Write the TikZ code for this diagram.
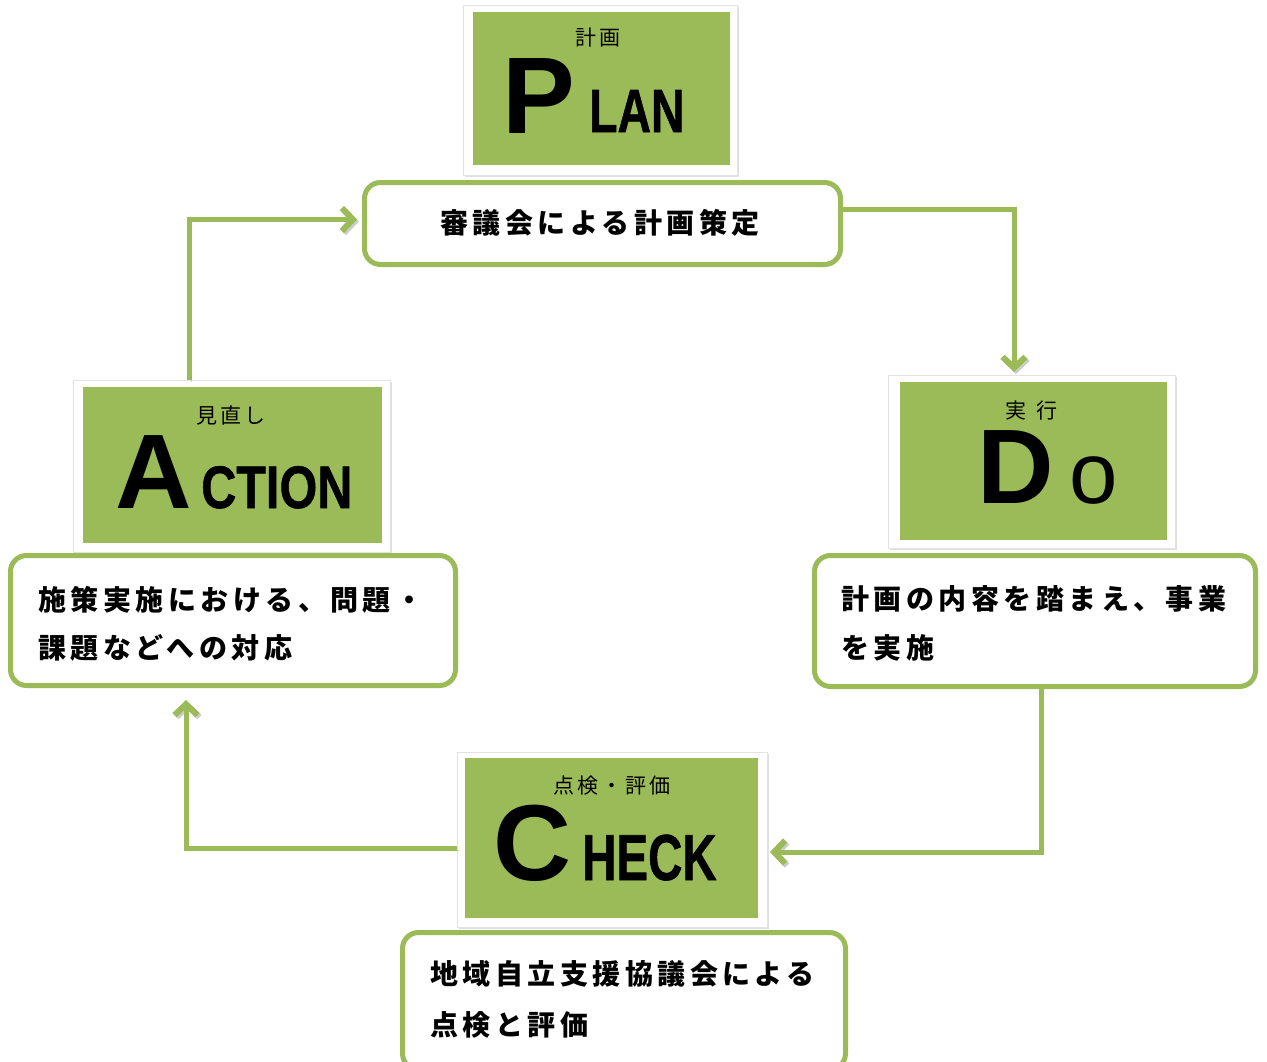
\documentclass[tikz,border=0pt]{standalone}
\usepackage{fontspec}
\usepackage{graphicx}
\setmainfont{Liberation Sans}
\newfontfamily\jpsp[LetterSpace=16]{Noto Sans CJK JP}
\newfontfamily\jpsm[LetterSpace=15]{Noto Sans CJK JP}
\newfontfamily\condf[FakeBold=1]{Liberation Sans}
\usetikzlibrary{arrows.meta,shadows}
\definecolor{gcol}{HTML}{9BBB59}
\newcommand{\cnd}[2][0.75]{\scalebox{#1}[1]{#2}}
\begin{document}
\begin{tikzpicture}[x=1pt,y=-1pt,
  wframe/.style={draw=gray!22, line width=1pt, fill=white,
    drop shadow={shadow xshift=1.5pt, shadow yshift=-1.5pt, fill=gray!50, opacity=0.5},
    inner sep=0pt, outer sep=0pt},
  gfill/.style={fill=gcol, draw=none, inner sep=0pt, outer sep=0pt},
  tbox/.style={draw=gcol, line width=5pt, rounded corners=16pt, fill=white, inner sep=0pt},
  bigl/.style={inner sep=0pt, anchor=base west, font=\fontsize{109}{109}\selectfont\bfseries},
  condl/.style={inner sep=0pt, anchor=base west},
  lab/.style={inner sep=0pt, font=\jpsm\fontsize{21}{21}\selectfont},
  txt/.style={inner sep=0pt, anchor=west, font=\jpsp\bfseries\fontsize{28}{28}\selectfont},
  flow/.style={draw=gcol, line width=5pt, -{Straight Barb[length=11pt,width=23pt,line width=6pt]},
    preaction={draw=gray!40, transform canvas={shift={(2pt,-2pt)}}}}
]
\useasboundingbox (0,0) rectangle (1267,1061);
\clip (0,0) rectangle (1267,1061);

% PLAN
\node[wframe, minimum width=274pt, minimum height=170pt] (pf) at (600,90) {};
\node[gfill, minimum width=257pt, minimum height=153pt] (pg) at (601.5,88.5) {};
\node[bigl] (pP) at (502,133) {P};
\node[condl, font=\condf\bfseries\fontsize{61}{61}\selectfont] (pL) at (589,132) {\cnd[0.76]{LAN}};
\node[lab] (pj) at (598,38) {計画};
\node[tbox, minimum width=476pt, minimum height=82pt] (pt) at (602.5,223.5) {};
\node[txt] (pt1) at (440,223) {審議会による計画策定};

% DO
\node[wframe, minimum width=287pt, minimum height=173pt] (df) at (1031.5,461.5) {};
\node[gfill, minimum width=267pt, minimum height=158pt] (dg) at (1033.5,461) {};
\node[bigl, font=\fontsize{106}{106}\selectfont\bfseries] (dD) at (977,503) {D};
\node[condl, font=\fontsize{87}{87}\selectfont] (dO) at (1069,503) {o};
\node[lab] (dj) at (1031,411) {実\hspace{10pt}行};
\node[tbox, minimum width=441pt, minimum height=131pt] (dt) at (1035,621) {};
\node[txt] (dt1) at (841,599) {計画の内容を踏まえ、事業};
\node[txt] (dt2) at (841,648) {を実施};

% ACTION
\node[wframe, minimum width=317pt, minimum height=172pt] (af) at (231.5,466) {};
\node[gfill, minimum width=299pt, minimum height=156pt] (ag) at (232.5,465) {};
\node[bigl, font=\fontsize{106}{106}\selectfont\bfseries] (aA) at (115,508) {A};
\node[condl, font=\condf\bfseries\fontsize{60}{60}\selectfont] (aC) at (201,508) {\cnd[0.81]{CTION}};
\node[lab] (aj) at (231,415) {見直し};
\node[tbox, minimum width=445pt, minimum height=130pt] (at) at (233,620.5) {};
\node[txt] (at1) at (38,600) {施策実施における、問題・};
\node[txt] (at2) at (38,648) {課題などへの対応};

% CHECK
\node[wframe, minimum width=310pt, minimum height=175pt] (cf) at (612,839.5) {};
\node[gfill, minimum width=293pt, minimum height=160pt] (cg) at (611.5,838) {};
\node[bigl, font=\fontsize{108}{108}\selectfont\bfseries] (cC) at (493,880) {C};
\node[condl, font=\condf\bfseries\fontsize{65}{65}\selectfont] (cH) at (582,880) {\cnd[0.73]{HECK}};
\node[lab] (cj) at (612,786) {点検・評価};
\node[tbox, minimum width=443pt, minimum height=137pt] (ct) at (624,1001) {};
\node[txt] (ct1) at (430,974) {地域自立支援協議会による};
\node[txt] (ct2) at (430,1025) {点検と評価};

% connectors
\draw[flow] ([xshift=-42pt]af.north) |- ([yshift=4pt,xshift=-5pt]pt.west);
\draw[flow] ([yshift=14.5pt]pt.east) -| ([xshift=-17.5pt,yshift=3pt]df.north);
\draw[flow] ([xshift=6pt]dt.south) |- ([yshift=-12.5pt,xshift=3pt]cf.east);
\draw[flow] ([yshift=-8.5pt]cf.west) -| ([xshift=-47pt,yshift=-12pt]at.south);
\end{tikzpicture}
\end{document}
